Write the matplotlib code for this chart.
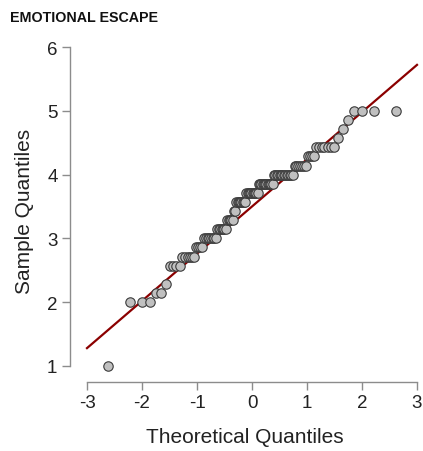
from statistics import NormalDist

import numpy as np
import matplotlib
matplotlib.use("Agg")
import matplotlib.pyplot as plt

plt.rcParams['font.family'] = ['Liberation Sans', 'DejaVu Sans']
plt.rcParams['axes.unicode_minus'] = False

# Puntuaciones observadas (escala en séptimos) y cuántas veces aparece cada una
niveles = [1.0, 2.0, 15/7, 16/7, 18/7, 19/7, 20/7, 3.0, 22/7, 23/7, 24/7,
           25/7, 26/7, 27/7, 4.0, 29/7, 30/7, 31/7, 32/7, 33/7, 34/7, 5.0]
conteos = [1, 3, 2, 1, 4, 6, 4, 8, 7, 5, 2,
           8, 10, 12, 14, 7, 4, 7, 1, 1, 1, 4]

titulo = "EMOTIONAL ESCAPE"
xticks = [-3, -2, -1, 0, 1, 2, 3]
yticks = [1, 2, 3, 4, 5, 6]


def cuantiles_qq(niveles, conteos):
    """Cuantiles muestrales ordenados y teóricos (ppoints, a = 0.5)."""
    muestra = np.repeat(niveles, conteos)
    n = len(muestra)
    nd = NormalDist()
    teoricos = np.array([nd.inv_cdf((i - 0.5) / n) for i in range(1, n + 1)])
    return teoricos, np.sort(muestra)


def linea_qq(muestra):
    """Recta por los cuartiles, como qqline de R."""
    q1, q3 = np.quantile(muestra, [0.25, 0.75])
    z1, z3 = NormalDist().inv_cdf(0.25), NormalDist().inv_cdf(0.75)
    pendiente = (q3 - q1) / (z3 - z1)
    return pendiente, q1 - pendiente * z1


teoricos, muestra = cuantiles_qq(niveles, conteos)
pendiente, intercepto = linea_qq(muestra)

fig = plt.figure(figsize=(4.23, 4.52), dpi=100)
W, H = 423, 452
# ejes: x de 70 a 420 px, y de 40 a 383 px (coordenadas de imagen)
ax = fig.add_axes([70 / W, 1 - 383 / H, 350 / W, 343 / H])

xs = np.array([-3, 3])
ax.plot(xs, intercepto + pendiente * xs, color="#8b0000", lw=1.6, zorder=2)
ax.scatter(teoricos, muestra, s=46, facecolor="#c0c0c0", edgecolor="#3a3a3a",
           linewidths=0.8, zorder=3)

ax.set_xlim(-3 - 17 / 55, 3 + 3 / 55)
ax.set_ylim(1 - 16.3 / 63.7, 6 + 8.3 / 63.7)

for lado in ("top", "right"):
    ax.spines[lado].set_visible(False)
ax.spines["left"].set_bounds(1, 6)
ax.spines["bottom"].set_bounds(-3, 3)
for lado in ("left", "bottom"):
    ax.spines[lado].set_color("#8c8c8c")
    ax.spines[lado].set_linewidth(1.0)

ax.set_xticks(xticks)
ax.set_yticks(yticks)
ax.tick_params(direction="out", length=6, width=1.0, color="#8c8c8c",
               labelsize=13.5, labelcolor="#222222", pad=3)

ax.set_xlabel("Theoretical Quantiles", fontsize=15, color="#222222", labelpad=11)
ax.set_ylabel("Sample Quantiles", fontsize=15, color="#222222", labelpad=9)

fig.text(10 / W, 1 - 18 / H, titulo, fontsize=10.3, fontweight="bold",
         color="#111111", va="center", ha="left")

fig.savefig("out.png", dpi=100)
